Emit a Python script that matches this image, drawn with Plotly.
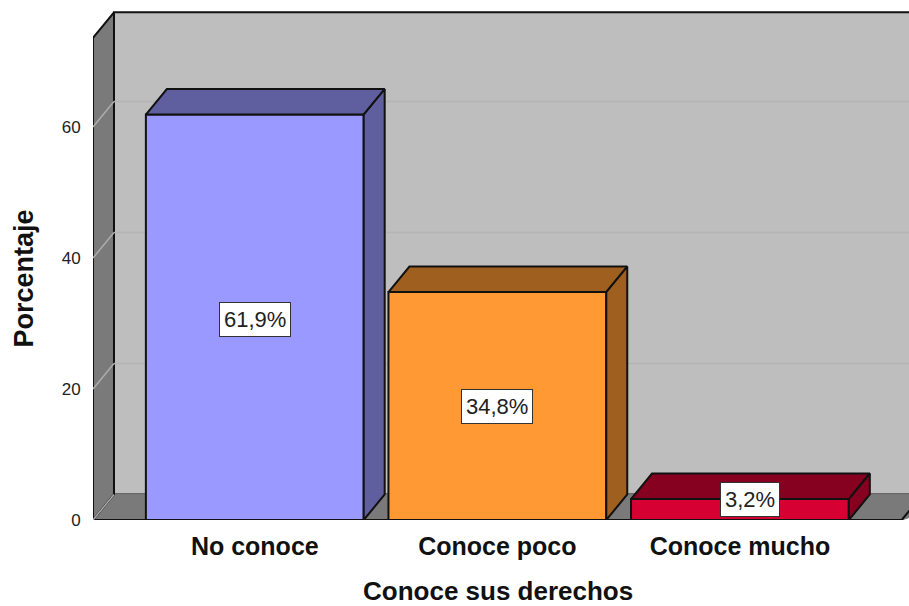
import plotly.graph_objects as go

categories = ["No conoce", "Conoce poco", "Conoce mucho"]
percentages = [61.9, 34.8, 3.2]
value_labels = ["61,9%", "34,8%", "3,2%"]
y_ticks = [0, 20, 40, 60]

FONT = "Liberation Sans, Arial, sans-serif"
front_colors = ["#9999FF", "#FF9933", "#D60032"]
dark_colors = ["#5F5F9F", "#9F5F1F", "#860020"]
WALL, SIDE = "#BEBEBE", "#7A7A7A"
GRID = "#ACACAC"
EDGE = "#111111"
BAR_W = 0.898
DX, DY = 0.0865, 3.9
X0, X1 = -0.667, 2.697
Y_TOP_FRONT = 73.6
X_FAR = X1 + 0.2
label_shift = [(0, -2), (0, 0), (10, 10)]

fig = go.Figure()


def poly(xs, ys, fill, line=EDGE, width=2, axes=("x", "y")):
    fig.add_trace(go.Scatter(
        x=xs, y=ys, mode="lines", fill="toself", fillcolor=fill,
        line=dict(color=line, width=width), cliponaxis=False, hoverinfo="skip",
        showlegend=False, xaxis=axes[0], yaxis=axes[1]))


def segment(xs, ys, color, width):
    fig.add_trace(go.Scatter(
        x=xs, y=ys, mode="lines", line=dict(color=color, width=width),
        hoverinfo="skip", showlegend=False, cliponaxis=False))


# back wall
poly([X0 + DX, X_FAR, X_FAR, X0 + DX, X0 + DX],
     [DY, DY, Y_TOP_FRONT + DY, Y_TOP_FRONT + DY, DY], WALL)
# floor
poly([X0, X0 + DX, X1 + DX + 0.2, X1 - 0.03, X0],
     [0, DY, DY, 0, 0], SIDE, line=SIDE, width=1)
segment([X0, X1 - 0.03, X1 - 0.03 + DX], [0, 0, DY], EDGE, 2)
# left wall
poly([X0, X0 + DX, X0 + DX, X0, X0],
     [0, DY, Y_TOP_FRONT + DY, Y_TOP_FRONT, 0], SIDE)
# grid lines on the walls
for t in y_ticks:
    segment([X0, X0 + DX], [t, t + DY], GRID, 1.5)
    if t > 0:
        segment([X0 + DX, X_FAR], [t + DY, t + DY], "#B4B4B4", 1.5)

# bars
fig.add_trace(go.Bar(
    x=list(range(len(categories))), y=percentages, width=BAR_W,
    marker=dict(color=front_colors, line=dict(color=EDGE, width=2)),
    cliponaxis=False, hoverinfo="skip", showlegend=False,
    xaxis="x2", yaxis="y2"))
for i, v in enumerate(percentages):
    l, r = i - BAR_W / 2, i + BAR_W / 2
    poly([l, l + DX, r + DX, r, l], [v, v + DY, v + DY, v, v],
         dark_colors[i], axes=("x2", "y2"))
    poly([r, r + DX, r + DX, r, r], [0, DY, v + DY, v, 0],
         dark_colors[i], axes=("x2", "y2"))

for i, v in enumerate(percentages):
    fig.add_annotation(
        x=i, y=v / 2, xref="x", yref="y", text=value_labels[i], showarrow=False,
        xshift=label_shift[i][0], yshift=label_shift[i][1],
        font=dict(family=FONT, size=22, color="#222222"),
        bgcolor="white", bordercolor="#333333", borderwidth=1, borderpad=4)

fig.add_annotation(
    xref="paper", yref="paper", x=(498 - 92.5) / 816.5, y=(606 - 590.5 - 86) / 510,
    text="<b>Conoce sus derechos</b>", showarrow=False, xanchor="center", yanchor="middle",
    font=dict(family=FONT, size=26, color="#111111"))
fig.add_annotation(
    xref="paper", yref="paper", x=(23 - 92.5) / 816.5, y=(520 - 279) / 510,
    text="<b>Porcentaje</b>", showarrow=False, textangle=-90, xanchor="center", yanchor="middle",
    font=dict(family=FONT, size=27, color="#111111"))

xr = [X0, X1]
yr = [0, 510 / 6.55]
fig.update_layout(
    width=909, height=606, margin=dict(l=92.5, r=0, t=10, b=86),
    paper_bgcolor="white", plot_bgcolor="white", showlegend=False,
    xaxis=dict(range=xr, tickvals=list(range(len(categories))), ticktext=categories,
               showgrid=False, zeroline=False, showline=False,
               ticks="outside", ticklen=4, tickcolor="rgba(0,0,0,0)",
               tickfont=dict(family=FONT, size=25, color="#111111", weight="bold")),
    yaxis=dict(range=yr, tickvals=y_ticks, showgrid=False, zeroline=False, showline=False,
               ticks="outside", ticklen=8, tickcolor="rgba(0,0,0,0)",
               tickfont=dict(family=FONT, size=17, color="#222222")),
    xaxis2=dict(range=xr, overlaying="x", visible=False),
    yaxis2=dict(range=yr, overlaying="y", visible=False),
)
fig.write_html(
    "out.html",
    config={"displayModeBar": False},
    post_script="document.body.style.margin='0';document.documentElement.style.overflow='hidden';",
)
